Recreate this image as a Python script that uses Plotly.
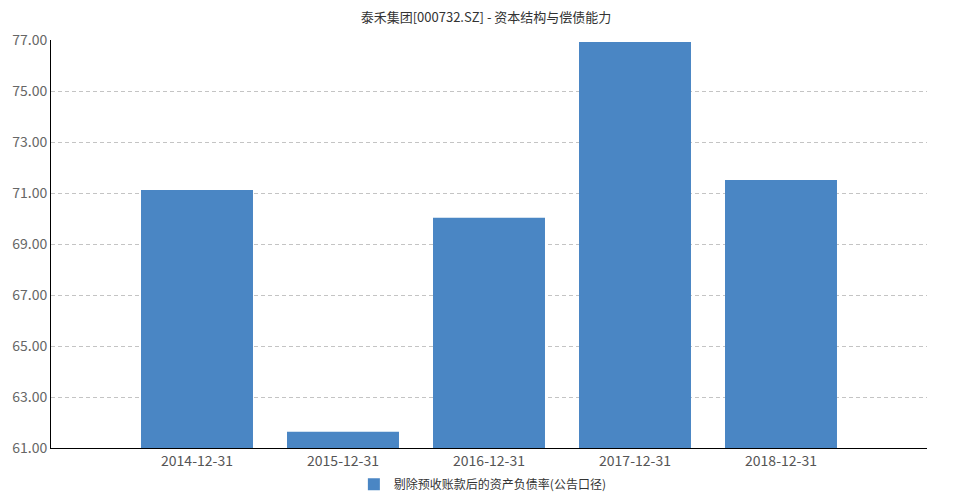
import plotly.graph_objects as go

categories = ["2014-12-31", "2015-12-31", "2016-12-31", "2017-12-31", "2018-12-31"]
values = [71.12, 61.64, 70.03, 76.92, 71.51]
series_name = "剔除预收账款后的资产负债率(公告口径)"
title = "泰禾集团[000732.SZ] - 资本结构与偿债能力"
y_ticks = [61, 63, 65, 67, 69, 71, 73, 75, 77]

font_family = "Microsoft YaHei, Noto Sans CJK SC, sans-serif"

fig = go.Figure()
fig.add_trace(go.Bar(
    x=categories, y=values, name=series_name,
    marker=dict(color="#4A86C4", line=dict(width=0)),
    width=0.767,
))
fig.update_layout(
    width=956, height=486,
    margin=dict(l=43, r=37, t=32, b=46, autoexpand=False),
    paper_bgcolor="white", plot_bgcolor="white",
    font=dict(family=font_family, size=14, color="#555555"),
    title=dict(text=title, x=0.5, xanchor="center", y=0.981, yanchor="middle",
               font=dict(size=13, color="#333333", family=font_family)),
    showlegend=True,
    legend=dict(orientation="h", x=0.493, xanchor="center", yref="container",
                y=0.02, yanchor="middle",
                font=dict(size=12, color="#333333"), itemwidth=30),
    xaxis=dict(type="category", range=[-1, 5], showgrid=False, automargin=False,
               showline=True, linecolor="#000000", linewidth=1,
               ticks="", tickfont=dict(size=14, color="#555555")),
    yaxis=dict(range=[61, 77], tickvals=y_ticks, tickformat=".2f", automargin=False,
               showgrid=True, gridcolor="#c4c4c4", griddash="4px,3px", gridwidth=1,
               showline=True, linecolor="#000000", linewidth=1,
               zeroline=False, ticks="", tickfont=dict(size=14, color="#666666")),
)
fig.write_html("out.html")
